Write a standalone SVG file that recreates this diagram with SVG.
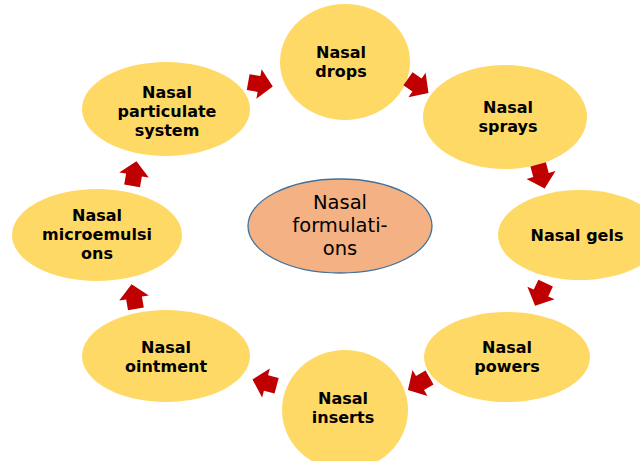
<svg xmlns="http://www.w3.org/2000/svg" width="640" height="461" viewBox="0 0 640 461">
<style>
.n{fill:#FFD966;}
.t{font-family:"DejaVu Sans","Liberation Sans",sans-serif;font-weight:bold;font-size:16px;fill:#000;text-anchor:middle;}
.c{font-family:"DejaVu Sans","Liberation Sans",sans-serif;font-size:19.5px;fill:#000;text-anchor:middle;}
.a{fill:#C00000;}
</style>
<defs>
<path id="arr" d="M-11,-8 L0,-8 L0,-15 L14,0 L0,15 L0,8 L-11,8 Z"/>
</defs>
<rect width="640" height="461" fill="#fff"/>
<g id="center">
<ellipse cx="340" cy="226" rx="92" ry="47" fill="#F4B183" stroke="#41719C" stroke-width="1.3"/>
<text class="c" x="340" y="209">Nasal</text>
<text class="c" x="340" y="232">formulati-</text>
<text class="c" x="340" y="255">ons</text>
</g>
<g id="drops"><ellipse class="n" cx="345" cy="62" rx="65" ry="58"/>
<text class="t" x="341" y="58">Nasal</text><text class="t" x="341" y="77">drops</text></g>
<g id="sprays"><ellipse class="n" cx="505" cy="117" rx="82" ry="52"/>
<text class="t" x="508" y="113">Nasal</text><text class="t" x="508" y="132">sprays</text></g>
<g id="gels"><ellipse class="n" cx="580" cy="235" rx="82" ry="45"/>
<text class="t" x="577" y="241">Nasal gels</text></g>
<g id="powers"><ellipse class="n" cx="507" cy="357" rx="83" ry="45"/>
<text class="t" x="507" y="353">Nasal</text><text class="t" x="507" y="372">powers</text></g>
<g id="inserts"><ellipse class="n" cx="345" cy="410" rx="63" ry="60"/>
<text class="t" x="343" y="404">Nasal</text><text class="t" x="343" y="423">inserts</text></g>
<g id="ointment"><ellipse class="n" cx="166" cy="356" rx="84" ry="46"/>
<text class="t" x="166" y="353">Nasal</text><text class="t" x="166" y="372">ointment</text></g>
<g id="microemulsions"><ellipse class="n" cx="97" cy="235" rx="85" ry="46"/>
<text class="t" x="97" y="221">Nasal</text><text class="t" x="97" y="240">microemulsi</text><text class="t" x="97" y="259">ons</text></g>
<g id="particulate"><ellipse class="n" cx="166" cy="109" rx="84" ry="47"/>
<text class="t" x="167" y="98">Nasal</text><text class="t" x="167" y="117">particulate</text><text class="t" x="167" y="136">system</text></g>
<g id="connectors">
<use href="#arr" class="a" transform="translate(259,84) rotate(10)"/>
<use href="#arr" class="a" transform="translate(417,85) rotate(35)"/>
<use href="#arr" class="a" transform="translate(541,175) rotate(75)"/>
<use href="#arr" class="a" transform="translate(541,293) rotate(115)"/>
<use href="#arr" class="a" transform="translate(420,383) rotate(150)"/>
<use href="#arr" class="a" transform="translate(266,383) rotate(195)"/>
<use href="#arr" class="a" transform="translate(134,298) rotate(-100)"/>
<use href="#arr" class="a" transform="translate(134,175) rotate(-80)"/>
</g>
</svg>
